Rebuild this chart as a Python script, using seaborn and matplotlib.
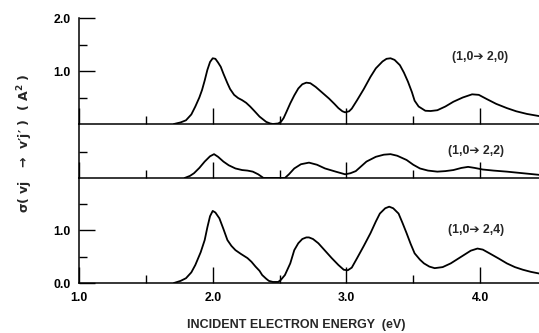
import matplotlib
matplotlib.use("Agg")
import matplotlib.pyplot as plt
import seaborn as sns
import pandas as pd
from matplotlib.ticker import FixedLocator, NullFormatter

# ---- data ----
x_20 = [1.71, 1.76, 1.80, 1.84, 1.87, 1.90, 1.92, 1.94, 1.96, 1.98, 2.00, 2.02, 2.04, 2.06,
        2.08, 2.11, 2.13, 2.16, 2.19, 2.22, 2.25, 2.28, 2.31, 2.35, 2.38, 2.40, 2.43, 2.45,
        2.49, 2.51, 2.53, 2.55, 2.58, 2.61, 2.64, 2.67, 2.70, 2.73, 2.77, 2.82, 2.87, 2.91,
        2.94, 2.97, 2.99, 3.02, 3.04, 3.08, 3.13, 3.18, 3.22, 3.27, 3.30, 3.33, 3.36, 3.40,
        3.43, 3.46, 3.49, 3.51, 3.54, 3.59, 3.63, 3.68, 3.74, 3.80, 3.87, 3.94, 3.99, 4.05,
        4.12, 4.20, 4.27, 4.35, 4.44]
y_20 = [0.00, 0.03, 0.07, 0.18, 0.33, 0.50, 0.64, 0.82, 1.02, 1.17, 1.24, 1.23, 1.16, 1.08,
        0.95, 0.77, 0.66, 0.55, 0.49, 0.45, 0.40, 0.33, 0.25, 0.14, 0.08, 0.04, 0.01, 0.00,
        0.01, 0.04, 0.11, 0.22, 0.39, 0.54, 0.67, 0.75, 0.78, 0.77, 0.70, 0.59, 0.48, 0.38,
        0.30, 0.24, 0.22, 0.24, 0.29, 0.45, 0.66, 0.89, 1.05, 1.18, 1.23, 1.24, 1.21, 1.11,
        0.97, 0.80, 0.60, 0.44, 0.33, 0.25, 0.245, 0.26, 0.33, 0.42, 0.50, 0.56, 0.55, 0.47,
        0.38, 0.30, 0.24, 0.19, 0.15]

x_22 = [1.79, 1.83, 1.86, 1.90, 1.94, 1.98, 2.01, 2.04, 2.08, 2.12, 2.17, 2.22, 2.26, 2.30,
        2.34, 2.38, 2.54, 2.57, 2.61, 2.66, 2.72, 2.78, 2.84, 2.92, 2.99, 3.03, 3.07, 3.15,
        3.22, 3.28, 3.33, 3.38, 3.45, 3.50, 3.55, 3.61, 3.68, 3.74, 3.80, 3.86, 3.91, 3.96,
        4.02, 4.10, 4.20, 4.32, 4.44]
y_22 = [0.00, 0.04, 0.09, 0.19, 0.31, 0.41, 0.45, 0.40, 0.31, 0.24, 0.18, 0.15, 0.14, 0.12,
        0.07, 0.00, 0.00, 0.07, 0.18, 0.26, 0.29, 0.25, 0.18, 0.12, 0.07, 0.09, 0.13, 0.31,
        0.40, 0.44, 0.45, 0.42, 0.34, 0.25, 0.18, 0.14, 0.12, 0.13, 0.15, 0.19, 0.21, 0.19,
        0.16, 0.14, 0.12, 0.09, 0.06]

x_24 = [1.71, 1.76, 1.80, 1.84, 1.87, 1.91, 1.94, 1.96, 1.98, 2.00, 2.02, 2.05, 2.08, 2.11,
        2.14, 2.17, 2.21, 2.26, 2.29, 2.32, 2.35, 2.37, 2.40, 2.42, 2.45, 2.49, 2.51, 2.54,
        2.58, 2.61, 2.64, 2.67, 2.70, 2.72, 2.75, 2.79, 2.84, 2.89, 2.94, 2.98, 3.01, 3.04,
        3.08, 3.13, 3.18, 3.22, 3.25, 3.29, 3.32, 3.35, 3.39, 3.42, 3.45, 3.48, 3.51, 3.55,
        3.58, 3.62, 3.66, 3.72, 3.78, 3.83, 3.88, 3.93, 3.98, 4.02, 4.07, 4.14, 4.20, 4.26,
        4.32, 4.38, 4.44]
y_24 = [0.00, 0.04, 0.09, 0.20, 0.34, 0.58, 0.81, 1.05, 1.26, 1.36, 1.33, 1.22, 1.02, 0.81,
        0.70, 0.62, 0.55, 0.47, 0.40, 0.31, 0.23, 0.15, 0.08, 0.04, 0.02, 0.02, 0.06, 0.15,
        0.37, 0.62, 0.75, 0.83, 0.86, 0.86, 0.83, 0.75, 0.61, 0.47, 0.34, 0.25, 0.24, 0.29,
        0.47, 0.70, 0.94, 1.16, 1.31, 1.41, 1.44, 1.41, 1.31, 1.13, 0.94, 0.74, 0.56, 0.44,
        0.37, 0.31, 0.28, 0.30, 0.37, 0.45, 0.53, 0.61, 0.65, 0.63, 0.56, 0.46, 0.37, 0.30,
        0.25, 0.21, 0.18]

labels = ["(1,0\u2794 2,0)", "(1,0\u2794 2,2)", "(1,0\u2794 2,4)"]
x_ticklabels = ["1.0", "2.0", "3.0", "4.0"]

sns.set_theme(style="white")
plt.rcParams["font.family"] = ["Liberation Sans", "DejaVu Sans"]
plt.rcParams["font.weight"] = "bold"

fig = plt.figure(figsize=(5.39, 3.33), dpi=100)
W, H = 539.0, 333.0
left = 79 / W
width = 1 - left


def make_ax(top_px, bot_px):
    return fig.add_axes([left, 1 - bot_px / H, width, (bot_px - top_px) / H])


ax_top = make_ax(18, 124)
ax_mid = make_ax(124, 178)
ax_bot = make_ax(178, 283)

series = [(ax_top, x_20, y_20, 2.0), (ax_mid, x_22, y_22, 54 / 53),
          (ax_bot, x_24, y_24, 105 / 53)]
for ax, xs, ys, ytop in series:
    df = pd.DataFrame({"x": xs, "y": ys})
    sns.lineplot(data=df, x="x", y="y", ax=ax, color="black", linewidth=1.3,
                 sort=False, estimator=None, solid_joinstyle="round")
    ax.set_xlim(1.0, 1 + (539 - 78) / 134)
    ax.set_ylim(0, ytop)
    ax.set_xlabel("")
    ax.set_ylabel("")
    ax.set_facecolor("none")
    for s in ["top", "right"]:
        ax.spines[s].set_visible(False)
    for s in ["left", "bottom"]:
        ax.spines[s].set_color("black")
        ax.spines[s].set_linewidth(1.1)
    ax.xaxis.set_major_locator(FixedLocator([1, 2, 3, 4]))
    ax.xaxis.set_minor_locator(FixedLocator([1.5, 2.5, 3.5]))
    ax.tick_params(axis="both", which="both", bottom=True, left=True, top=False, right=False)
    ax.tick_params(axis="both", which="major", direction="in", length=11.5, width=1.0,
                   color="black", labelsize=8.8, labelcolor="black")
    ax.tick_params(axis="both", which="minor", direction="in", length=5.8, width=1.0,
                   color="black")
    ax.tick_params(axis="y", which="major", pad=5.8)
    ax.tick_params(axis="x", which="major", pad=6.5)

# y ticks
ax_top.yaxis.set_major_locator(FixedLocator([1.0, 2.0]))
ax_top.yaxis.set_minor_locator(FixedLocator([0.5, 1.5]))
ax_top.set_yticklabels(["1.0", "2.0"], fontweight="bold")
ax_mid.yaxis.set_major_locator(FixedLocator([]))
ax_mid.yaxis.set_minor_locator(FixedLocator([0.5]))
ax_bot.yaxis.set_major_locator(FixedLocator([0.0, 1.0]))
ax_bot.yaxis.set_minor_locator(FixedLocator([0.5, 1.5]))
ax_bot.set_yticklabels(["0.0", "1.0"], fontweight="bold")

for ax in (ax_top, ax_mid):
    ax.xaxis.set_major_formatter(NullFormatter())
ax_bot.set_xticklabels(x_ticklabels, fontweight="bold")

# panel labels
ax_top.text(4.0, (124 - 56.5) / 53, labels[0], ha="center", va="center",
            fontsize=8.8, fontweight="bold")
ax_mid.text(3.97, (178 - 151) / 53, labels[1], ha="center", va="center",
            fontsize=8.8, fontweight="bold")
ax_bot.text(3.97, (283 - 230) / 53, labels[2], ha="center", va="center",
            fontsize=8.8, fontweight="bold")

fig.text(296 / W, 1 - 325 / H, "INCIDENT ELECTRON ENERGY  (eV)", ha="center",
         va="center", fontsize=9, fontweight="bold")
fig.text(25 / W, 1 - 143 / H,
         "\u03c3( vj   \u2192  v\u2032j\u2032 )  ( A$^\\mathbf{2}$ )",
         ha="center", va="center", rotation=90, fontsize=9, fontweight="bold",
         family=["DejaVu Sans"])

fig.savefig("out.png", dpi=100, facecolor="white")
